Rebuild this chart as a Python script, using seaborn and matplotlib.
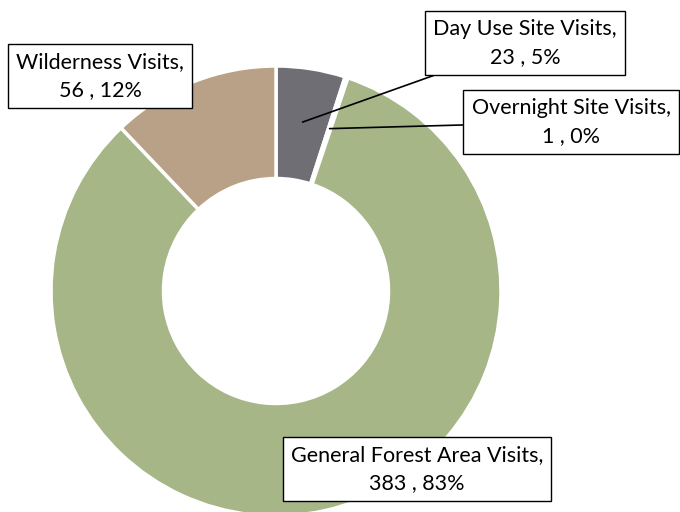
import numpy as np
import matplotlib
matplotlib.use("Agg")
import matplotlib.pyplot as plt
import seaborn as sns

# ---------------------------
# Data
# ---------------------------
categories = ["Day Use Site Visits", "Overnight Site Visits",
              "General Forest Area Visits", "Wilderness Visits"]
visits = [23, 1, 383, 56]
colors = ["#6f6e74", "#c9b98f", "#a6b687", "#b9a187"]

# label box centres in pixel coords (x, y from top)
label_pos = [(525, 43), (571, 122), (417, 469), (100, 76)]
leader = [True, True, False, False]

# ---------------------------
# Style
# ---------------------------
sns.set_theme(style="white")
plt.rcParams["font.family"] = ["Lato", "DejaVu Sans"]

W, H = 680, 512
fig = plt.figure(figsize=(6.8, 5.12), dpi=100)
ax = fig.add_axes([0, 0, 1, 1])

cx, cy, R = 276, H - 291, 225

wedges, _ = ax.pie(
    visits,
    colors=colors,
    startangle=90,
    counterclock=False,
    center=(cx, cy),
    radius=R,
    wedgeprops=dict(width=R * 0.5, edgecolor="white", linewidth=2.5),
    frame=True,
)
ax.set_xlim(0, W)
ax.set_ylim(0, H)
ax.set_aspect("equal")
ax.axis("off")

total = sum(visits)
for w, name, val, pos, has_line in zip(wedges, categories, visits, label_pos, leader):
    pct = round(val / total * 100)
    text = f"{name},\n{val} , {pct}%"
    mid = np.deg2rad((w.theta1 + w.theta2) / 2)
    anchor = (cx + 0.76 * R * np.cos(mid), cy + 0.76 * R * np.sin(mid))
    ax.annotate(
        text,
        xy=anchor,
        xytext=(pos[0], H - pos[1]),
        ha="center", va="center",
        fontsize=15.5, color="black", linespacing=1.45,
        bbox=dict(boxstyle="square,pad=0.38", facecolor="white",
                  edgecolor="black", linewidth=1),
        arrowprops=dict(arrowstyle="-", color="black", lw=1.2,
                        shrinkA=0, shrinkB=0) if has_line else None,
    )

fig.savefig("out.png", dpi=100)
plt.close(fig)
